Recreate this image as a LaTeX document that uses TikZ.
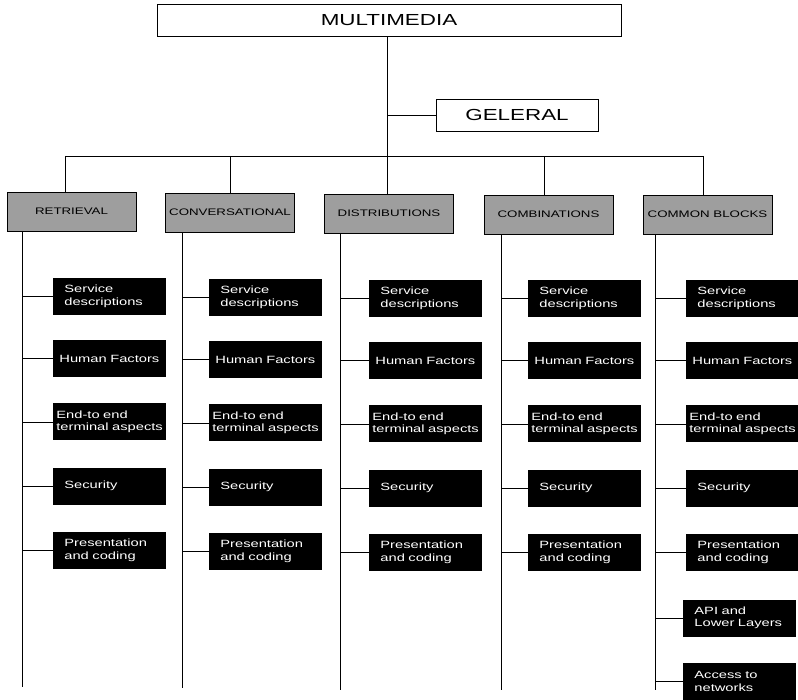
\documentclass[tikz,border=0pt]{standalone}
\usepackage{fontspec}
\setmainfont{Liberation Sans}
\newfontfamily\widesf[FakeStretch=1.4]{Liberation Sans}
\begin{document}
\begin{tikzpicture}[x=1pt,y=-1pt,line width=0.8pt,
  titlebox/.style={draw,rectangle,inner sep=0pt,font=\widesf\fontsize{16}{18}\selectfont},
  catbox/.style={draw,fill=black!38,minimum width=129pt,minimum height=39pt,inner sep=0pt,font=\widesf\fontsize{9.5}{11}\selectfont},
  itembox/.style={fill=black,text=white,minimum height=37pt,inner xsep=11pt,inner ysep=0pt,text width=91pt,align=left,anchor=west,font=\widesf\fontsize{10.5}{12.5}\selectfont},
  conn/.style={draw,line width=0.8pt}]
\useasboundingbox (0,0) rectangle (798,700);
% top
\node[titlebox,minimum width=464pt,minimum height=32pt] (mm) at (389,20) {MULTIMEDIA};
\node[titlebox,minimum width=162pt,minimum height=32pt] (gel) at (517,115) {GELERAL};
% categories
\node[catbox] (ret) at (71.5,211.5) {RETRIEVAL};
\node[catbox] (con) at (230,212.5) {CONVERSATIONAL};
\node[catbox] (dis) at (389,213.5) {DISTRIBUTIONS};
\node[catbox] (com) at (548.5,214.5) {COMBINATIONS};
\node[catbox] (cb) at (707.5,214.5) {COMMON BLOCKS};
% trunk and bus
\coordinate (trunk) at (387,156);
\coordinate (busl) at (65,156);
\coordinate (busc) at (230,156);
\coordinate (busm) at (544,156);
\coordinate (busr) at (703,156);
\draw[conn] (trunk |- mm.south) -- (trunk |- dis.north);
\draw[conn] (trunk |- gel.west) -- (gel.west);
\draw[conn] (busl) -- (busr);
\draw[conn] (busl) -- (busl |- ret.north);
\draw[conn] (busc) -- (busc |- con.north);
\draw[conn] (busm) -- (busm |- com.north);
\draw[conn] (busr) -- (busr |- cb.north);
% columns
\foreach \c/\bx/\sx/\dy/\ey in {ret/53/22/0/687, con/209/182/1/688, dis/369/340/2/690, com/528/501/2/690, cb/686/655/2/690} {
  \coordinate (\c-sp) at (\sx,\ey);
  \draw[conn] (\c-sp |- \c.south) -- (\c-sp);
  \node[itembox] (\c-1) at (\bx,296.5+\dy) {Service\\descriptions};
  \node[itembox,inner xsep=6pt,text width=101pt] (\c-2) at (\bx,358.5+\dy) {Human~Factors};
  \node[itembox,inner xsep=3pt,text width=107pt] (\c-3) at (\bx,422+\dy) {End-to end\\terminal~aspects};
  \node[itembox] (\c-4) at (\bx,486+\dy) {Security};
  \node[itembox] (\c-5) at (\bx,550.5+\dy) {Presentation\\and~coding};
  \foreach \k in {1,...,5} {
    \draw[conn] (\c-\k.west -| \c-sp) -- (\c-\k.west);
  }
}
\node[itembox] (cb-6) at (683,618) {API and\\Lower~Layers};
\node[itembox] (cb-7) at (683,681.5) {Access to\\networks};
\draw[conn] (cb-6.west -| cb-sp) -- (cb-6.west);
\draw[conn] (cb-7.west -| cb-sp) -- (cb-7.west);
\end{tikzpicture}
\end{document}
